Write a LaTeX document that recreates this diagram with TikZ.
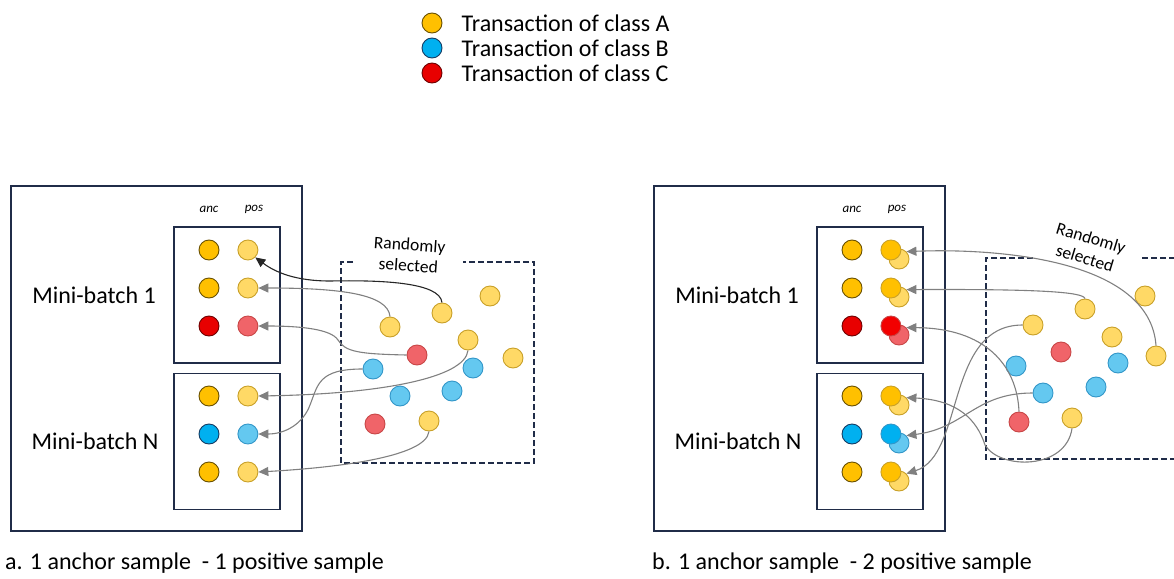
\documentclass[tikz,border=0pt]{standalone}
\usepackage{fontspec}
\setmainfont{Carlito}
\usepackage{tikz}
\usetikzlibrary{arrows.meta, positioning, calc}
\definecolor{boxnavy}{RGB}{32, 44, 72}
\definecolor{arrowgrey}{RGB}{128, 128, 128}
\definecolor{classA}{RGB}{255, 192, 0}
\definecolor{classAedge}{RGB}{105, 80, 0}
\definecolor{classAlight}{RGB}{255, 217, 102}
\definecolor{classAlightedge}{RGB}{200, 160, 40}
\definecolor{classB}{RGB}{0, 176, 240}
\definecolor{classBedge}{RGB}{20, 60, 100}
\definecolor{classBlight}{RGB}{100, 200, 240}
\definecolor{classBlightedge}{RGB}{50, 150, 200}
\definecolor{classC}{RGB}{232, 0, 0}
\definecolor{classCedge}{RGB}{110, 0, 0}
\definecolor{classClight}{RGB}{240, 100, 105}
\definecolor{classClightedge}{RGB}{200, 70, 70}

\begin{document}
\begin{tikzpicture}[x=1pt, y=-1pt,
  dot/.style={circle, minimum size=20pt, inner sep=0pt, line width=0.9pt},
  ancA/.style={dot, fill=classA, draw=classAedge},
  ancB/.style={dot, fill=classB, draw=classBedge},
  ancC/.style={dot, fill=classC, draw=classCedge},
  posA/.style={dot, fill=classAlight, draw=classAlightedge},
  posB/.style={dot, fill=classBlight, draw=classBlightedge},
  posC/.style={dot, fill=classClight, draw=classClightedge},
  frontA/.style={dot, fill=classA, draw=classAlightedge},
  frontB/.style={dot, fill=classB, draw=classBlightedge},
  frontC/.style={dot, fill=red!95!black, draw=classClightedge},
  outerbox/.style={rectangle, draw=boxnavy, line width=1.6pt, minimum width=291pt, minimum height=345pt, inner sep=0pt},
  batchbox/.style={rectangle, draw=boxnavy, line width=1.6pt, minimum width=106pt, minimum height=136pt, inner sep=0pt},
  poolbox/.style={draw=boxnavy, line width=1.4pt, dash pattern=on 6pt off 3pt},
  pick/.style={draw=arrowgrey, line width=1.1pt, -{Triangle[length=10pt, width=9pt]}},
  pickfirst/.style={pick, draw=black!85},
  batchlabel/.style={font=\fontsize{24}{28}\selectfont, inner sep=0pt},
  collabel/.style={font=\fontsize{13}{15}\selectfont\itshape, inner sep=0pt},
  notelabel/.style={font=\fontsize{17.5}{21}\selectfont, align=center, inner sep=0pt},
  legendlabel/.style={font=\fontsize{24}{28}\selectfont, inner sep=0pt, anchor=west},
  caption/.style={font=\fontsize{24}{28}\selectfont, inner sep=0pt, anchor=west}]
\useasboundingbox (0,0) rectangle (1174,578);

% legend
\node[ancA] (legA) at (432,23) {};
\node[ancB] (legB) at (432,48) {};
\node[ancC] (legC) at (432,73) {};
\node[legendlabel, right=19pt of legA] (legAtext) {Transaction of class A};
\node[legendlabel, right=19pt of legB] (legBtext) {Transaction of class B};
\node[legendlabel, right=19pt of legC] (legCtext) {Transaction of class C};

% a. one positive sample
\node[outerbox] (outerL) at (156.5,358.5) {};
\node[batchbox] (batchL1) at (227,295) {};
\node[batchbox] (batchLN) at (227,441.5) {};
\node[collabel] (ancLabelL) at (209,209) {anc};
\node[collabel] (posLabelL) at (254,209) {pos};
\node[batchlabel] (miniL1) at (94,295) {Mini-batch 1};
\node[batchlabel] (miniLN) at (95,441) {Mini-batch N};

\node[ancA] (ancL1) at (209,250) {};
\node[ancA] (ancL2) at (209,288) {};
\node[ancC] (ancL3) at (209,326) {};
\node[ancA] (ancL4) at (209,396) {};
\node[ancB] (ancL5) at (209,434) {};
\node[ancA] (ancL6) at (209,472) {};
\node[posA, right=18pt of ancL1] (posL1) {};
\node[posA, right=18pt of ancL2] (posL2) {};
\node[posC, right=18pt of ancL3] (posL3) {};
\node[posA, right=18pt of ancL4] (posL4) {};
\node[posB, right=18pt of ancL5] (posL5) {};
\node[posA, right=18pt of ancL6] (posL6) {};

\draw[poolbox] (353,262) -- (341,262) -- (341,463) -- (534,463) -- (534,262) -- (463,262);
\node[notelabel, rotate=-4] (noteL) at (409,255) {Randomly\\selected};

\node[posA] (lA1) at (490,296) {};
\node[posA] (lA2) at (442,313) {};
\node[posA] (lA3) at (390,327) {};
\node[posA] (lA4) at (468,340) {};
\node[posA] (lA5) at (513,358) {};
\node[posA] (lA6) at (429,421) {};
\node[posC] (lC1) at (417,355) {};
\node[posC] (lC2) at (375,424) {};
\node[posB] (lB1) at (373,369) {};
\node[posB] (lB2) at (473,368) {};
\node[posB] (lB3) at (400,396) {};
\node[posB] (lB4) at (452,391) {};

\draw[pickfirst] (lA2.north) .. controls (440,282) and (380,280) .. (330,281) .. controls (295,281) and (275,272) .. (posL1.south east);
\draw[pick] (lA3.north) .. controls (388,294) and (340,288) .. (posL2.east);
\draw[pick] (lC1.west) .. controls (360,354) and (345,352) .. (338,340) .. controls (331,329) and (300,326) .. (posL3.east);
\draw[pick] (lA4.south) .. controls (465,378) and (380,394) .. (posL4.east);
\draw[pick] (lB1.west) .. controls (318,369) and (318,385) .. (310,405) .. controls (303,424) and (285,434) .. (posL5.east);
\draw[pick] (lA6.south) .. controls (426,458) and (330,468) .. (posL6.east);

% b. two positive samples
\node[outerbox] (outerR) at (799.5,358.5) {};
\node[batchbox] (batchR1) at (870,295) {};
\node[batchbox] (batchRN) at (870,441.5) {};
\node[collabel] (ancLabelR) at (852,209) {anc};
\node[collabel] (posLabelR) at (897,209) {pos};
\node[batchlabel] (miniR1) at (737,295) {Mini-batch 1};
\node[batchlabel] (miniRN) at (738,441) {Mini-batch N};

\node[ancA] (ancR1) at (852,250) {};
\node[ancA] (ancR2) at (852,288) {};
\node[ancC] (ancR3) at (852,326) {};
\node[ancA] (ancR4) at (852,396) {};
\node[ancB] (ancR5) at (852,434) {};
\node[ancA] (ancR6) at (852,472) {};
\node[posA] (extraR1) at ($(ancR1)+(47,9)$) {};
\node[posA] (extraR2) at ($(ancR2)+(47,9)$) {};
\node[posC] (extraR3) at ($(ancR3)+(47,9)$) {};
\node[posA] (extraR4) at ($(ancR4)+(47,9)$) {};
\node[posB] (extraR5) at ($(ancR5)+(47,9)$) {};
\node[posA] (extraR6) at ($(ancR6)+(47,9)$) {};
\node[frontA, right=18pt of ancR1] (posR1) {};
\node[frontA, right=18pt of ancR2] (posR2) {};
\node[frontC, right=18pt of ancR3] (posR3) {};
\node[frontA, right=18pt of ancR4] (posR4) {};
\node[frontB, right=18pt of ancR5] (posR5) {};
\node[frontA, right=18pt of ancR6] (posR6) {};

\draw[poolbox] (1033,258) -- (986,258) -- (986,459) -- (1174,459);
\draw[poolbox] (1142,258) -- (1174,258);
\node[notelabel, rotate=-17] (noteR) at (1088,248) {Randomly\\selected};

\node[posA] (rA1) at (1145,296) {};
\node[posA] (rA2) at (1085,309) {};
\node[posA] (rA3) at (1033,325) {};
\node[posA] (rA4) at (1112,337) {};
\node[posA] (rA5) at (1156,356) {};
\node[posA] (rA6) at (1072,418) {};
\node[posC] (rC1) at (1061,352) {};
\node[posC] (rC2) at (1019,422) {};
\node[posB] (rB1) at (1016,366) {};
\node[posB] (rB2) at (1118,363) {};
\node[posB] (rB3) at (1043,393) {};
\node[posB] (rB4) at (1096,387) {};

\draw[pick] (rA5.north) .. controls (1150,260) and (1000,248) .. (extraR1.north east);
\draw[pick] (rA2.north) .. controls (1083,292) and (1040,289) .. (extraR2.north east);
\draw[pick] (rC2.north) .. controls (1017,365) and (985,328) .. (extraR3.north east);
\draw[pick] (rA6.south) .. controls (1066,470) and (1000,470) .. (985,445) .. controls (977,420) and (958,400) .. (extraR4.north east);
\draw[pick] (rB3.west) .. controls (975,393) and (965,428) .. (extraR5.north east);
\draw[pick] (rA3.west) .. controls (945,325) and (965,455) .. (extraR6.north east);

% captions
\node[caption] (capA) at (5,563) {a. 1 anchor sample\ \ - 1 positive sample};
\node[caption] (capB) at (652,563) {b. 1 anchor sample\ \ - 2 positive sample};
\end{tikzpicture}
\end{document}
